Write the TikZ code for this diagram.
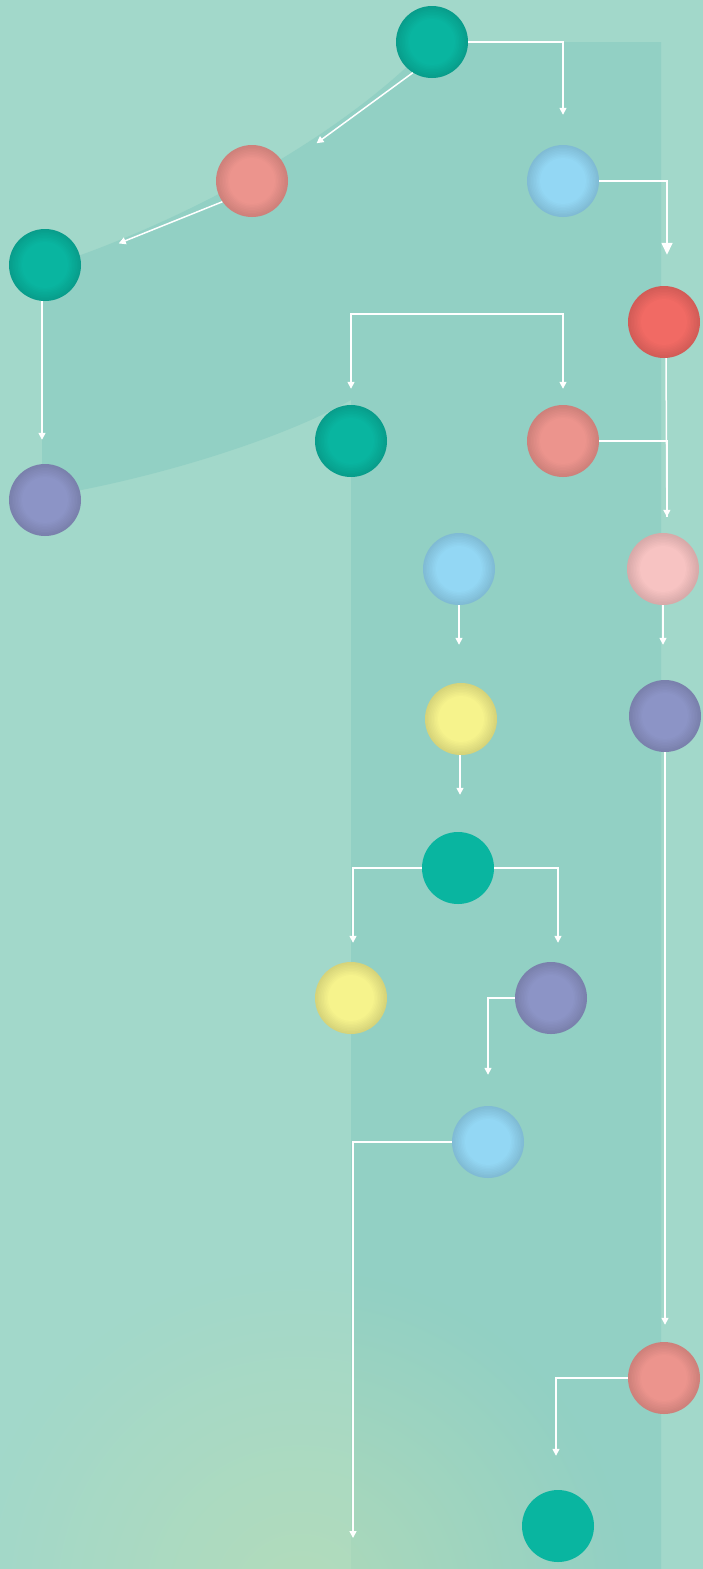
\documentclass[tikz,border=0pt]{standalone}
\usepackage{xcolor}
\usepackage{tikz}
\usetikzlibrary{arrows.meta, fadings}
\definecolor{bglight}{HTML}{A2D8CA}
\definecolor{bgband}{HTML}{92D0C4}
\definecolor{glowy}{HTML}{B8DDB6}
\definecolor{cteal}{HTML}{09B5A0}
\definecolor{csalmon}{HTML}{EC948D}
\definecolor{cblue}{HTML}{93D7F4}
\definecolor{cred}{HTML}{F16A64}
\definecolor{cpurple}{HTML}{8C94C6}
\definecolor{cpink}{HTML}{F7C3C2}
\definecolor{cyellow}{HTML}{F6F38C}
\tikzfading[name=glowfade, inner color=transparent!0, outer color=transparent!100]
\tikzset{
  flat/.style={circle, minimum size=72pt, inner sep=0pt, fill=#1},
  % soft darker rim, drawn as rings from the edge inwards
  orb/.style={flat=#1!87!black, path picture={
      \foreach \r/\m in {35/88, 33.5/89.5, 32/91, 30.5/92.5, 29/94, 27.5/95.5, 26/97, 24.5/98.5, 23/100}
        \fill[#1!\m!black] (path picture bounding box.center) circle (\r pt);}},
  link/.style={white, line width=1.5pt},
  arr/.style={link, -{Triangle[width=7pt,length=7pt]}},
  bigarr/.style={link, -{Triangle[width=11pt,length=12pt]}},
  gap/.style={shorten >=#1}
}

\begin{document}
\begin{tikzpicture}[x=1pt, y=-1pt]
\useasboundingbox (0,0) rectangle (703,1569);
\fill[bglight] (0,0) rectangle (703,1569);
% darker band behind the flow
\fill[bgband] (432,42) -- (661,42) -- (661,1569) -- (351,1569) -- (351,400)
  .. controls (280,440) and (150,480) .. (42,497) -- (42,268)
  .. controls (150,235) and (330,150) .. (432,42) -- cycle;
\begin{scope}
\clip (0,0) rectangle (703,1569);
\fill[glowy, path fading=glowfade, fill opacity=0.75] (300,1600) circle (330);
\end{scope}

% nodes
\node[orb=cteal] (n1) at (432,42) {};
\node[orb=csalmon] (n2) at (252,181) {};
\node[orb=cblue] (n3) at (563,181) {};
\node[orb=cteal] (n4) at (45,265) {};
\node[orb=cred] (n5) at (664,322) {};
\node[orb=cteal] (n6) at (351,441) {};
\node[orb=csalmon] (n7) at (563,441) {};
\node[orb=cpurple] (n8) at (45,500) {};
\node[orb=cblue] (n9) at (459,569) {};
\node[orb=cpink] (n10) at (663,569) {};
\node[orb=cyellow] (n11) at (461,719) {};
\node[orb=cpurple] (n12) at (665,716) {};
\node[flat=cteal] (n13) at (458,868) {};
\node[orb=cyellow] (n14) at (351,998) {};
\node[orb=cpurple] (n15) at (551,998) {};
\node[orb=cblue] (n16) at (488,1142) {};
\node[orb=csalmon] (n17) at (664,1378) {};
\node[flat=cteal] (n18) at (558,1526) {};

\coordinate (split) at (456,314);
\coordinate (sink) at (353,1538);

% connectors
\draw[arr, gap=30pt] (n1) -| (n3);
\draw[arr, gap=39pt] (n1.238) -- (n2.24);
\draw[arr, gap=41pt] (n2.215) -- (n4.10);
\draw[bigarr, gap=31pt] (n3) -| ([xshift=3pt]n5.north);
\draw[arr, gap=24pt] ([xshift=-3pt]n4.south) -- ([xshift=-3pt]n8.north);
\draw[arr, gap=16pt] (split) -| (n6);
\draw[arr, gap=16pt] (split) -| (n7);
\draw[arr, gap=16pt] ([xshift=2pt]n5.south) -- ([xshift=4pt]n10.north);
\draw[link, gap=16pt] (n7) -| ([xshift=4pt]n10.north);
\draw[arr, gap=38pt] (n9.south) -- (n9.south |- n11.north);
\draw[arr, gap=35pt] (n10.south) -- (n10.south |- n12.north);
\draw[arr, gap=37pt] ([xshift=-1pt]n11.south) -- ([xshift=-1pt]n11.south |- n13.north);
\draw[arr, gap=19pt] (n13) -| ([xshift=2pt]n14.north);
\draw[arr, gap=19pt] (n13) -| ([xshift=7pt]n15.north);
\draw[arr, gap=31pt] (n15) -| (n16);
\draw[arr] (n16) -| (sink);
\draw[arr, gap=17pt] (n12.south) -- (n12.south |- n17.north);
\draw[arr, gap=34pt] (n17) -| ([xshift=-2pt]n18.north);
\end{tikzpicture}
\end{document}
